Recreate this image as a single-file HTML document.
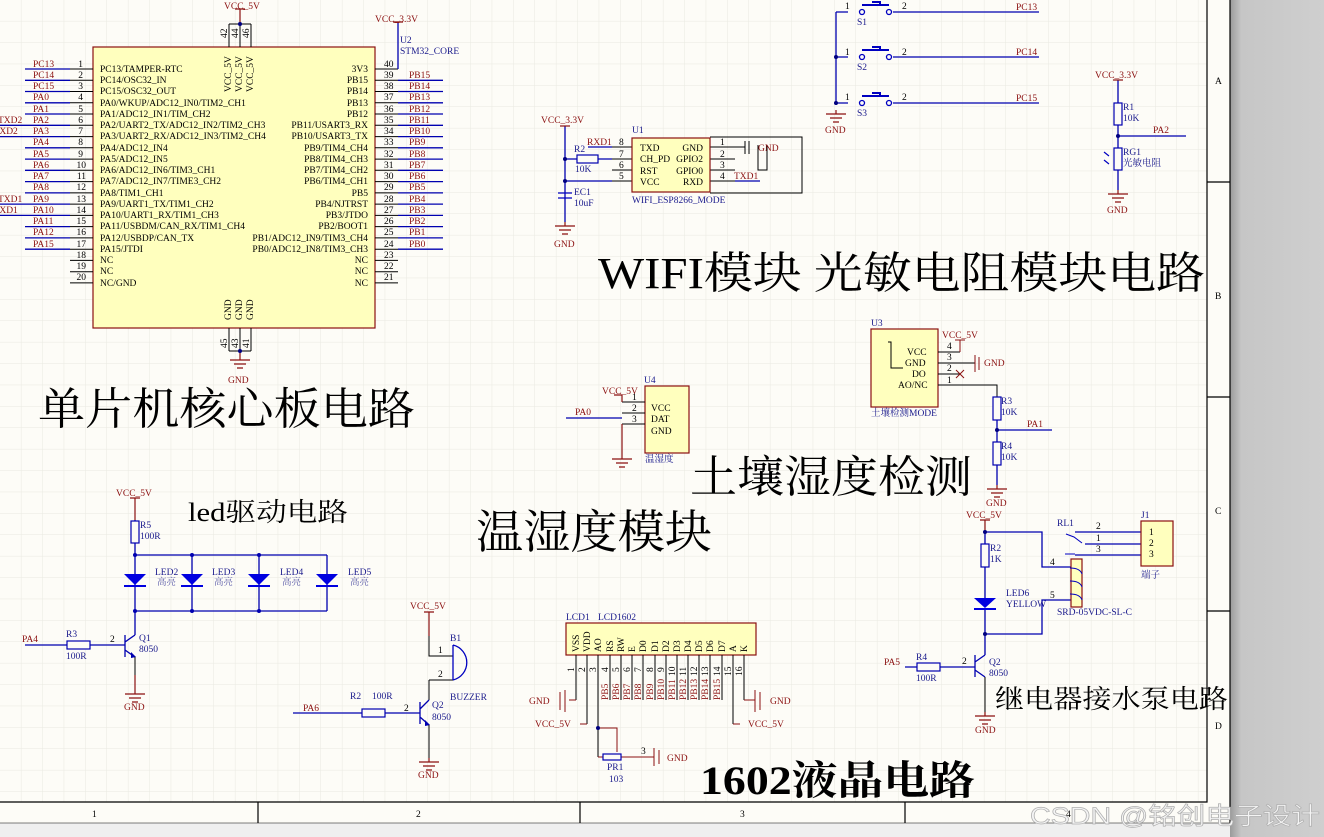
<!DOCTYPE html>
<html><head><meta charset="utf-8"><style>
html,body{margin:0;padding:0;background:#fdfcf7;}
svg{display:block;}
text{font-family:"Liberation Serif","Noto Serif CJK SC",serif;}
.r{fill:#8b1010;font-size:9.5px;}
.b{fill:#1a1a8c;font-size:9.5px;}
.k{fill:#000;font-size:9.5px;}
.t{fill:#000;font-family:"Liberation Serif","Noto Serif CJK SC",serif;}
.w{stroke:#0000b0;stroke-width:1.3;fill:none;}
.s{stroke:#000;stroke-width:1;fill:none;}
.dr{stroke:#8b1010;stroke-width:1.2;fill:none;}
.box{fill:#ffffbe;stroke:#8b1010;stroke-width:1.2;}
.res{fill:#fdfcf7;stroke:#0000b0;stroke-width:1.2;}
</style></head><body>
<svg width="1324" height="837" viewBox="0 0 1324 837" xmlns="http://www.w3.org/2000/svg">
<defs>
<pattern id="g" width="21.4" height="21.4" patternUnits="userSpaceOnUse"><path d="M21.4 0V21.4H0" fill="none" stroke="#e9e9e1" stroke-width="1"/></pattern>
<linearGradient id="sh" x1="0" x2="1"><stop offset="0" stop-color="#9a9a9a"/><stop offset="0.12" stop-color="#c6c6c6"/><stop offset="1" stop-color="#cfcfcf"/></linearGradient>
<g id="gnd"><path d="M0 0V4M-10 4H10M-6 8H6M-3 12H3" stroke="#8b1010" stroke-width="1.2" fill="none"/></g>
</defs>
<rect width="1324" height="837" fill="#fdfcf7"/>
<rect width="1207" height="802" fill="url(#g)"/>
<rect x="1230" y="0" width="94" height="837" fill="url(#sh)"/>
<rect x="0" y="823" width="1230" height="14" fill="#efefef"/>
<path d="M1207 0V802H0M1230 0V823M1207 182H1230M1207 397H1230M1207 611H1230M258 802V823M580 802V823M905 802V823" stroke="#000" stroke-width="1.2" fill="none"/>
<path d="M0 823H1230" stroke="#000" stroke-width="0.6"/>
<text class="k" x="1215" y="84">A</text><text class="k" x="1215" y="299">B</text><text class="k" x="1215" y="514">C</text><text class="k" x="1215" y="729">D</text>
<text class="k" x="92" y="817">1</text><text class="k" x="416" y="817">2</text><text class="k" x="740" y="817">3</text><text class="k" x="1066" y="817">4</text>

<rect class="box" x="93" y="47" width="282" height="281"/>
<g class="s">
<path d="M70 69H93M70 80.3H93M70 91.5H93M70 102.8H93M70 114H93M70 125.3H93M70 136.6H93M70 147.8H93M70 159.1H93M70 170.3H93M70 181.6H93M70 192.9H93M70 204.1H93M70 215.4H93M70 226.6H93M70 237.9H93M70 249.2H93M70 260.4H93M70 271.7H93M70 282.9H93"/>
<path d="M375 69H398M375 80.3H398M375 91.5H398M375 102.8H398M375 114H398M375 125.3H398M375 136.6H398M375 147.8H398M375 159.1H398M375 170.3H398M375 181.6H398M375 192.9H398M375 204.1H398M375 215.4H398M375 226.6H398M375 237.9H398M375 249.2H398M375 260.4H398M375 271.7H398M375 282.9H398"/>
<path d="M229 24V47M240 24V47M251 24V47M229 24H251M229 328V351M240 328V351M251 328V351M229 351H251"/>
</g>
<g class="w">
<path d="M25 69H70M25 80.3H70M25 91.5H70M25 102.8H70M25 114H70M0 125.3H70M0 136.6H70M25 147.8H70M25 159.1H70M25 170.3H70M25 181.6H70M25 192.9H70M0 204.1H70M0 215.4H70M25 226.6H70M25 237.9H70M25 249.2H70"/>
<path d="M398 80.3H443M398 91.5H443M398 102.8H443M398 114H443M398 125.3H443M398 136.6H443M398 147.8H443M398 159.1H443M398 170.3H443M398 181.6H443M398 192.9H443M398 204.1H443M398 215.4H443M398 226.6H443M398 237.9H443M398 249.2H443"/>
<path d="M398 22V63H398V69" />
</g>
<path class="dr" d="M240 9V24M235 9H245M393 22H403M240 351V356"/>
<circle cx="240" cy="24" r="2" fill="#000080"/><circle cx="240" cy="351" r="2" fill="#000080"/>
<use href="#gnd" x="240" y="356"/>
<text class="r" x="224" y="9">VCC_5V</text><text class="r" x="375" y="22">VCC_3.3V</text><text class="r" x="228" y="383">GND</text>
<text class="b" x="400" y="43">U2</text><text class="b" x="400" y="54">STM32_CORE</text>
<g class="k" font-size="9">
<text transform="translate(227,38) rotate(-90)">42</text><text transform="translate(238,38) rotate(-90)">44</text><text transform="translate(249,38) rotate(-90)">46</text>
<text transform="translate(227,348) rotate(-90)">45</text><text transform="translate(238,348) rotate(-90)">43</text><text transform="translate(249,348) rotate(-90)">41</text>
<text transform="translate(231,92) rotate(-90)">VCC_5V</text><text transform="translate(242,92) rotate(-90)">VCC_5V</text><text transform="translate(253,92) rotate(-90)">VCC_5V</text>
<text transform="translate(231,320) rotate(-90)">GND</text><text transform="translate(242,320) rotate(-90)">GND</text><text transform="translate(253,320) rotate(-90)">GND</text>
</g>
<g class="k" font-size="9" text-anchor="end">
<text x="83" y="67">1</text><text x="83" y="78">2</text><text x="83" y="89">3</text><text x="83" y="100">4</text><text x="83" y="112">5</text><text x="83" y="123">6</text><text x="83" y="134">7</text><text x="83" y="145">8</text><text x="83" y="157">9</text><text x="86" y="168">10</text><text x="86" y="179">11</text><text x="86" y="190">12</text><text x="86" y="202">13</text><text x="86" y="213">14</text><text x="86" y="224">15</text><text x="86" y="235">16</text><text x="86" y="247">17</text><text x="86" y="258">18</text><text x="86" y="269">19</text><text x="86" y="280">20</text>
</g>
<g class="k" font-size="9">
<text x="384" y="67">40</text><text x="384" y="78">39</text><text x="384" y="89">38</text><text x="384" y="100">37</text><text x="384" y="112">36</text><text x="384" y="123">35</text><text x="384" y="134">34</text><text x="384" y="145">33</text><text x="384" y="157">32</text><text x="384" y="168">31</text><text x="384" y="179">30</text><text x="384" y="190">29</text><text x="384" y="202">28</text><text x="384" y="213">27</text><text x="384" y="224">26</text><text x="384" y="235">25</text><text x="384" y="247">24</text><text x="384" y="258">23</text><text x="384" y="269">22</text><text x="384" y="280">21</text>
</g>
<g class="r" font-size="9">
<text x="33" y="67">PC13</text><text x="33" y="78">PC14</text><text x="33" y="89">PC15</text><text x="33" y="100">PA0</text><text x="33" y="112">PA1</text><text x="33" y="123">PA2</text><text x="33" y="134">PA3</text><text x="33" y="145">PA4</text><text x="33" y="157">PA5</text><text x="33" y="168">PA6</text><text x="33" y="179">PA7</text><text x="33" y="190">PA8</text><text x="33" y="202">PA9</text><text x="33" y="213">PA10</text><text x="33" y="224">PA11</text><text x="33" y="235">PA12</text><text x="33" y="247">PA15</text>
<text x="-2" y="123">TXD2</text><text x="-7" y="134">RXD2</text><text x="-2" y="202">TXD1</text><text x="-7" y="213">RXD1</text>
<text x="409" y="78">PB15</text><text x="409" y="89">PB14</text><text x="409" y="100">PB13</text><text x="409" y="112">PB12</text><text x="409" y="123">PB11</text><text x="409" y="134">PB10</text><text x="409" y="145">PB9</text><text x="409" y="157">PB8</text><text x="409" y="168">PB7</text><text x="409" y="179">PB6</text><text x="409" y="190">PB5</text><text x="409" y="202">PB4</text><text x="409" y="213">PB3</text><text x="409" y="224">PB2</text><text x="409" y="235">PB1</text><text x="409" y="247">PB0</text>
</g>
<g class="k" font-size="9">
<text x="100" y="72">PC13/TAMPER-RTC</text><text x="100" y="83">PC14/OSC32_IN</text><text x="100" y="94">PC15/OSC32_OUT</text><text x="100" y="106">PA0/WKUP/ADC12_IN0/TIM2_CH1</text><text x="100" y="117">PA1/ADC12_IN1/TIM_CH2</text><text x="100" y="128">PA2/UART2_TX/ADC12_IN2/TIM2_CH3</text><text x="100" y="139">PA3/UART2_RX/ADC12_IN3/TIM2_CH4</text><text x="100" y="151">PA4/ADC12_IN4</text><text x="100" y="162">PA5/ADC12_IN5</text><text x="100" y="173">PA6/ADC12_IN6/TIM3_CH1</text><text x="100" y="184">PA7/ADC12_IN7/TIME3_CH2</text><text x="100" y="196">PA8/TIM1_CH1</text><text x="100" y="207">PA9/UART1_TX/TIM1_CH2</text><text x="100" y="218">PA10/UART1_RX/TIM1_CH3</text><text x="100" y="229">PA11/USBDM/CAN_RX/TIM1_CH4</text><text x="100" y="241">PA12/USBDP/CAN_TX</text><text x="100" y="252">PA15/JTDI</text><text x="100" y="263">NC</text><text x="100" y="274">NC</text><text x="100" y="286">NC/GND</text>
</g>
<g class="k" font-size="9" text-anchor="end">
<text x="368" y="72">3V3</text><text x="368" y="83">PB15</text><text x="368" y="94">PB14</text><text x="368" y="106">PB13</text><text x="368" y="117">PB12</text><text x="368" y="128">PB11/USART3_RX</text><text x="368" y="139">PB10/USART3_TX</text><text x="368" y="151">PB9/TIM4_CH4</text><text x="368" y="162">PB8/TIM4_CH3</text><text x="368" y="173">PB7/TIM4_CH2</text><text x="368" y="184">PB6/TIM4_CH1</text><text x="368" y="196">PB5</text><text x="368" y="207">PB4/NJTRST</text><text x="368" y="218">PB3/JTDO</text><text x="368" y="229">PB2/BOOT1</text><text x="368" y="241">PB1/ADC12_IN9/TIM3_CH4</text><text x="368" y="252">PB0/ADC12_IN8/TIM3_CH3</text><text x="368" y="263">NC</text><text x="368" y="274">NC</text><text x="368" y="286">NC</text>
</g>
<text class="t" x="38" y="424" font-size="44" textLength="377" lengthAdjust="spacingAndGlyphs">单片机核心板电路</text>

<path class="w" d="M836 12V105M836 57H848M836 103H848M836 12H848M893 12H1039M893 57H1039M893 103H1039"/>
<circle cx="836" cy="57" r="2" fill="#000080"/><circle cx="836" cy="103" r="2" fill="#000080"/>
<g stroke="#0000c0" stroke-width="1.3" fill="none">
<circle cx="862" cy="12" r="2.5"/><circle cx="889" cy="12" r="2.5"/><path d="M862 5H889M872 2H880V5" stroke-width="2"/>
<circle cx="862" cy="57" r="2.5"/><circle cx="889" cy="57" r="2.5"/><path d="M862 50H889M872 47H880V50" stroke-width="2"/>
<circle cx="862" cy="103" r="2.5"/><circle cx="889" cy="103" r="2.5"/><path d="M862 96H889M872 93H880V96" stroke-width="2"/>
</g>
<g class="k" font-size="9"><text x="845" y="9">1</text><text x="902" y="9">2</text><text x="845" y="55">1</text><text x="902" y="55">2</text><text x="845" y="100">1</text><text x="902" y="100">2</text></g>
<g class="b" font-size="9"><text x="857" y="25">S1</text><text x="857" y="70">S2</text><text x="857" y="116">S3</text></g>
<g class="r" font-size="9"><text x="1016" y="10">PC13</text><text x="1016" y="55">PC14</text><text x="1016" y="101">PC15</text><text x="825" y="133">GND</text></g>
<use href="#gnd" x="836" y="110"/>

<path class="w" d="M1118 80V103M1118 125V148M1118 136H1186M1118 170V190"/>
<path class="dr" d="M1113 80H1123"/>
<rect class="res" x="1114" y="103" width="8" height="22"/><rect class="res" x="1114" y="148" width="8" height="22"/>
<circle cx="1118" cy="136" r="2" fill="#000080"/>
<path d="M1104 152l5 4M1104 160l5 4" stroke="#0000c0" stroke-width="1.2"/>
<use href="#gnd" x="1118" y="190"/>
<text class="r" x="1095" y="78">VCC_3.3V</text><text class="b" x="1123" y="110">R1</text><text class="b" x="1123" y="121">10K</text>
<text class="r" x="1153" y="133">PA2</text><text class="b" x="1123" y="155">RG1</text><text class="b" x="1123" y="166" fill="#5a5aa8">光敏电阻</text><text class="r" x="1107" y="213">GND</text>

<path class="w" d="M565 126V222M565 159H577M598 159H612M565 181H612M588 147H612"/>
<path class="dr" d="M560 126H570"/>
<rect class="res" x="577" y="155" width="21" height="8"/>
<circle cx="565" cy="159" r="2" fill="#000080"/><circle cx="565" cy="181" r="2" fill="#000080"/>
<path class="s" d="M612 147H632M612 159H632M612 170H632M612 181H632M710 147H735M710 159H735M710 170H735M710 181H735"/>
<path d="M710 137H802V193H710M735 147H745M745 141V154M749 141V154M758 145V170H767V145" stroke="#000" fill="none"/>
<path class="w" d="M735 181H760"/>
<rect class="box" x="632" y="138" width="78" height="54"/>
<path d="M558 193H572M558 198H572" stroke="#0000c0" stroke-width="1.3"/>
<use href="#gnd" x="565" y="222"/>
<g class="k" font-size="9.5"><text x="640" y="151">TXD</text><text x="640" y="162">CH_PD</text><text x="640" y="174">RST</text><text x="640" y="185">VCC</text>
<text x="703" y="151" text-anchor="end">GND</text><text x="703" y="162" text-anchor="end">GPIO2</text><text x="703" y="174" text-anchor="end">GPIO0</text><text x="703" y="185" text-anchor="end">RXD</text></g>
<g class="k" font-size="8.5"><text x="619" y="145">8</text><text x="619" y="157">7</text><text x="619" y="168">6</text><text x="619" y="179">5</text><text x="720" y="145">1</text><text x="720" y="157">2</text><text x="720" y="168">3</text><text x="720" y="179">4</text></g>
<text class="r" x="541" y="123">VCC_3.3V</text><text class="r" x="587" y="145">RXD1</text><text class="b" x="574" y="152">R2</text><text class="b" x="575" y="172">10K</text>
<text class="b" x="632" y="133">U1</text><text class="b" x="632" y="203" font-size="8.5">WIFI_ESP8266_MODE</text>
<text class="r" x="758" y="151">GND</text><text class="r" x="734" y="179">TXD1</text><text class="b" x="574" y="195">EC1</text><text class="b" x="574" y="206">10uF</text><text class="r" x="554" y="247">GND</text>
<text class="t" x="598" y="288" font-size="44" textLength="607" lengthAdjust="spacingAndGlyphs">WIFI模块  光敏电阻模块电路</text>

<rect class="box" x="871" y="329" width="67" height="78"/>
<path class="s" d="M938 352H960M938 363H975M938 374H960M938 385H997V397"/>
<path d="M960 352V340M955 340H965M975 355V372M979 357V370M956 370l8 8M956 378l8-8" stroke="#8b1010" fill="none"/>
<path class="w" d="M997 420V442M997 430H1052M997 465V485"/>
<rect class="res" x="993" y="397" width="8" height="23"/><rect class="res" x="993" y="442" width="8" height="23"/>
<circle cx="997" cy="430" r="2" fill="#000080"/>
<use href="#gnd" x="997" y="485"/>
<path d="M888 342H891V368H903" stroke="#000" fill="none"/>
<g class="k" font-size="9.5"><text x="907" y="355">VCC</text><text x="905" y="366">GND</text><text x="912" y="377">DO</text><text x="898" y="388">AO/NC</text></g>
<g class="k" font-size="8.5"><text x="947" y="349">4</text><text x="947" y="360">3</text><text x="947" y="371">2</text><text x="947" y="383">1</text></g>
<text class="b" x="871" y="326">U3</text><text class="r" x="942" y="338">VCC_5V</text><text class="r" x="984" y="366">GND</text>
<text class="b" x="871" y="416" font-size="8.5" fill="#5a5aa8">土壤检测MODE</text>
<text class="b" x="1001" y="404">R3</text><text class="b" x="1001" y="415">10K</text><text class="r" x="1027" y="427">PA1</text>
<text class="b" x="1001" y="449">R4</text><text class="b" x="1001" y="460">10K</text><text class="r" x="986" y="506">GND</text>
<text class="t" x="690" y="492" font-size="44" textLength="282" lengthAdjust="spacingAndGlyphs">土壤湿度检测</text>

<rect class="box" x="645" y="386" width="44" height="67"/>
<path class="s" d="M622 402H645M622 413H645M622 424H645"/>
<path class="w" d="M566 418H622"/>
<path class="dr" d="M622 402V395H614M622 424V455"/>
<use href="#gnd" x="622" y="455"/>
<g class="k" font-size="9.5"><text x="651" y="411">VCC</text><text x="651" y="422">DAT</text><text x="651" y="434">GND</text></g>
<g class="k" font-size="8.5"><text x="632" y="400">1</text><text x="632" y="411">2</text><text x="632" y="422">3</text></g>
<text class="b" x="644" y="383">U4</text><text class="r" x="602" y="394">VCC_5V</text><text class="r" x="575" y="415">PA0</text>
<text class="b" x="645" y="462" fill="#5a5aa8">温湿度</text>
<text class="t" x="476" y="548" font-size="46" textLength="236" lengthAdjust="spacingAndGlyphs">温湿度模块</text>

<path class="dr" d="M135 498V520M130 498H140M135 675V690"/>
<path class="w" d="M135 520V521M135 543V635M135 555H327M135 611H327M192 555V611M259 555V611M327 555V611M57 645H67M90 645H125"/>
<rect class="res" x="131" y="521" width="8" height="22"/>
<g fill="#0000e0"><path d="M124 574H146L135 585Z"/><path d="M181 574H203L192 585Z"/><path d="M248 574H270L259 585Z"/><path d="M316 574H338L327 585Z"/></g>
<path d="M124 586H146M181 586H203M248 586H270M316 586H338" stroke="#0000e0" stroke-width="2"/>
<g fill="#0000b0"><circle cx="135" cy="555" r="2"/><circle cx="192" cy="555" r="2"/><circle cx="259" cy="555" r="2"/><circle cx="192" cy="611" r="2"/><circle cx="259" cy="611" r="2"/><circle cx="135" cy="611" r="2"/></g>
<path class="w" d="M25 645H57"/>
<rect class="res" x="67" y="641" width="23" height="8"/>
<path d="M125 635V657M125 642L135 635M125 650L135 657" stroke="#0000b0" stroke-width="1.3" fill="none"/>
<path d="M131 652l5 5-5 1z" fill="#0000b0"/>
<path class="s" d="M135 657V675"/>
<use href="#gnd" x="135" y="690"/>
<g class="b" font-size="9"><text x="155" y="575">LED2</text><text x="212" y="575">LED3</text><text x="280" y="575">LED4</text><text x="348" y="575">LED5</text>
<text x="157" y="585" fill="#5a5aa8">高亮</text><text x="214" y="585" fill="#5a5aa8">高亮</text><text x="282" y="585" fill="#5a5aa8">高亮</text><text x="350" y="585" fill="#5a5aa8">高亮</text></g>
<text class="r" x="116" y="496">VCC_5V</text><text class="b" x="140" y="528">R5</text><text class="b" x="140" y="539">100R</text>
<text class="r" x="22" y="642">PA4</text><text class="b" x="66" y="637">R3</text><text class="b" x="66" y="659">100R</text><text class="k" x="110" y="642" font-size="8.5">2</text>
<text class="b" x="139" y="641">Q1</text><text class="b" x="139" y="652">8050</text><text class="r" x="124" y="710">GND</text>
<text class="t" x="188" y="521" font-size="26" textLength="160" lengthAdjust="spacingAndGlyphs">led驱动电路</text>

<path class="dr" d="M429 612V636M424 612H434"/>
<path class="s" d="M429 636V656H453M429 680H453M429 700V680"/>
<path d="M453 645V680M453 645A18 18 0 0 1 453 680" stroke="#0000c0" stroke-width="1.3" fill="none"/>
<path class="w" d="M293 713H362M385 713H420"/>
<rect class="res" x="362" y="709" width="23" height="8"/>
<path d="M420 702V724M420 709L429 700M420 717L429 725" stroke="#0000b0" stroke-width="1.3" fill="none"/>
<path d="M425 720l5 5-5 1z" fill="#0000b0"/>
<path class="s" d="M429 725V758"/>
<use href="#gnd" x="429" y="758"/>
<text class="r" x="410" y="609">VCC_5V</text><text class="b" x="450" y="641">B1</text><text class="k" x="438" y="653" font-size="8.5">1</text><text class="k" x="438" y="677" font-size="8.5">2</text>
<text class="b" x="450" y="700" font-size="8.5">BUZZER</text><text class="b" x="432" y="708">Q2</text><text class="b" x="432" y="720">8050</text>
<text class="b" x="350" y="699">R2</text><text class="b" x="372" y="699">100R</text><text class="r" x="303" y="711">PA6</text><text class="k" x="404" y="711" font-size="8.5">2</text><text class="r" x="418" y="778">GND</text>

<rect class="box" x="566" y="623" width="190" height="32"/>
<path class="s" d="M576 655V700M587 655V724M598 655V757M610 655V700M621 655V700M632 655V700M643 655V700M655 655V700M666 655V700M677 655V700M688 655V700M699 655V700M710 655V700M722 655V700M733 655V724M744 655V700"/>
<path d="M576 700H569M565 690V712M560 692V710M587 724H580M733 724H740M744 700H755M755 690V712M760 692V710M598 728H617V752M598 757H640M640 757H654M654 748V766M659 750V764" stroke="#8b1010" fill="none"/>
<rect class="res" x="603" y="754" width="18" height="6"/>
<circle cx="598" cy="728" r="2" fill="#000080"/>
<g class="k" font-size="9">
<text transform="translate(579,652) rotate(-90)">VSS</text><text transform="translate(590,652) rotate(-90)">VDD</text><text transform="translate(601,652) rotate(-90)">AO</text><text transform="translate(613,652) rotate(-90)">RS</text><text transform="translate(624,652) rotate(-90)">RW</text><text transform="translate(635,652) rotate(-90)">E</text><text transform="translate(646,652) rotate(-90)">D0</text><text transform="translate(658,652) rotate(-90)">D1</text><text transform="translate(669,652) rotate(-90)">D2</text><text transform="translate(680,652) rotate(-90)">D3</text><text transform="translate(691,652) rotate(-90)">D4</text><text transform="translate(702,652) rotate(-90)">D5</text><text transform="translate(713,652) rotate(-90)">D6</text><text transform="translate(725,652) rotate(-90)">D7</text><text transform="translate(736,652) rotate(-90)">A</text><text transform="translate(747,652) rotate(-90)">K</text>
</g>
<g class="k" font-size="8">
<text transform="translate(574,672) rotate(-90)">1</text><text transform="translate(585,672) rotate(-90)">2</text><text transform="translate(596,672) rotate(-90)">3</text><text transform="translate(608,672) rotate(-90)">4</text><text transform="translate(619,672) rotate(-90)">5</text><text transform="translate(630,672) rotate(-90)">6</text><text transform="translate(641,672) rotate(-90)">7</text><text transform="translate(653,672) rotate(-90)">8</text><text transform="translate(664,672) rotate(-90)">9</text><text transform="translate(675,676) rotate(-90)">10</text><text transform="translate(686,676) rotate(-90)">11</text><text transform="translate(697,676) rotate(-90)">12</text><text transform="translate(708,676) rotate(-90)">13</text><text transform="translate(720,676) rotate(-90)">14</text><text transform="translate(731,676) rotate(-90)">15</text><text transform="translate(742,676) rotate(-90)">16</text>
</g>
<g class="r" font-size="8.5">
<text transform="translate(608,700) rotate(-90)">PB5</text><text transform="translate(619,700) rotate(-90)">PB6</text><text transform="translate(630,700) rotate(-90)">PB7</text><text transform="translate(641,700) rotate(-90)">PB8</text><text transform="translate(653,700) rotate(-90)">PB9</text><text transform="translate(664,700) rotate(-90)">PB10</text><text transform="translate(675,700) rotate(-90)">PB11</text><text transform="translate(686,700) rotate(-90)">PB12</text><text transform="translate(697,700) rotate(-90)">PB13</text><text transform="translate(708,700) rotate(-90)">PB14</text><text transform="translate(720,700) rotate(-90)">PB15</text>
</g>
<text class="b" x="566" y="620">LCD1</text><text class="b" x="598" y="620">LCD1602</text>
<text class="r" x="529" y="704">GND</text><text class="r" x="535" y="727">VCC_5V</text><text class="r" x="770" y="704">GND</text><text class="r" x="748" y="727">VCC_5V</text>
<text class="r" x="667" y="761">GND</text><text class="k" x="641" y="754" font-size="8.5">3</text>
<text class="b" x="607" y="770">PR1</text><text class="b" x="609" y="782">103</text>
<text class="t" x="700" y="794" font-size="40" font-weight="bold" textLength="275" lengthAdjust="spacingAndGlyphs">1602液晶电路</text>

<path class="dr" d="M985 520V532M980 520H990"/>
<path class="w" d="M985 532V544M985 567V598M985 532H1042V567H1073M985 608V655M985 634H1042V600H1073M1075 532H1141M1075 555H1141M1085 544H1141"/>
<rect class="res" x="981" y="544" width="8" height="23"/>
<path d="M974 598H996L985 608Z" fill="#0000e0"/><path d="M974 609H996" stroke="#0000e0" stroke-width="2"/>
<circle cx="985" cy="532" r="2" fill="#000080"/><circle cx="985" cy="634" r="2" fill="#000080"/>
<rect class="box" x="1071" y="559" width="11" height="48" stroke="#000"/>
<path d="M1070 568q10 0 12 6M1070 581q10 0 12 6M1070 594q10 0 12 6M1066 534l8 3 8 6M1065 554h10" stroke="#0000c0" fill="none"/>
<rect class="box" x="1141" y="521" width="32" height="45"/>
<path d="M975 655V677M975 662L985 655M975 670L985 677" stroke="#0000b0" stroke-width="1.3" fill="none"/>
<path class="w" d="M905 667H917M940 667H975"/>
<rect class="res" x="917" y="663" width="23" height="8"/>
<path class="s" d="M985 677V712"/>
<use href="#gnd" x="985" y="712"/>
<g class="k" font-size="9"><text x="1149" y="535">1</text><text x="1149" y="546">2</text><text x="1149" y="557">3</text><text x="1096" y="529">2</text><text x="1096" y="541">1</text><text x="1096" y="552">3</text><text x="1050" y="565">4</text><text x="1050" y="598">5</text><text x="962" y="664">2</text></g>
<text class="r" x="966" y="518">VCC_5V</text><text class="b" x="1057" y="526">RL1</text><text class="b" x="1141" y="518">J1</text><text class="b" x="1141" y="578" fill="#5a5aa8">端子</text>
<text class="b" x="990" y="551">R2</text><text class="b" x="990" y="562">1K</text><text class="b" x="1006" y="596">LED6</text><text class="b" x="1006" y="607">YELLOW</text>
<text class="b" x="1057" y="615" font-size="9">SRD-05VDC-SL-C</text>
<text class="r" x="884" y="665">PA5</text><text class="b" x="916" y="660">R4</text><text class="b" x="916" y="681">100R</text>
<text class="b" x="989" y="665">Q2</text><text class="b" x="989" y="676">8050</text><text class="r" x="975" y="733">GND</text>
<text class="t" x="995" y="708" font-size="26" textLength="233" lengthAdjust="spacingAndGlyphs">继电器接水泵电路</text>

<text x="1030" y="824" style="font-family:'Liberation Sans','Noto Sans CJK SC',sans-serif" font-size="24" fill="#f4f4f4" stroke="#b0b0b0" stroke-width="0.7" textLength="290" lengthAdjust="spacingAndGlyphs">CSDN @铭创电子设计</text>
</svg>
</body></html>
